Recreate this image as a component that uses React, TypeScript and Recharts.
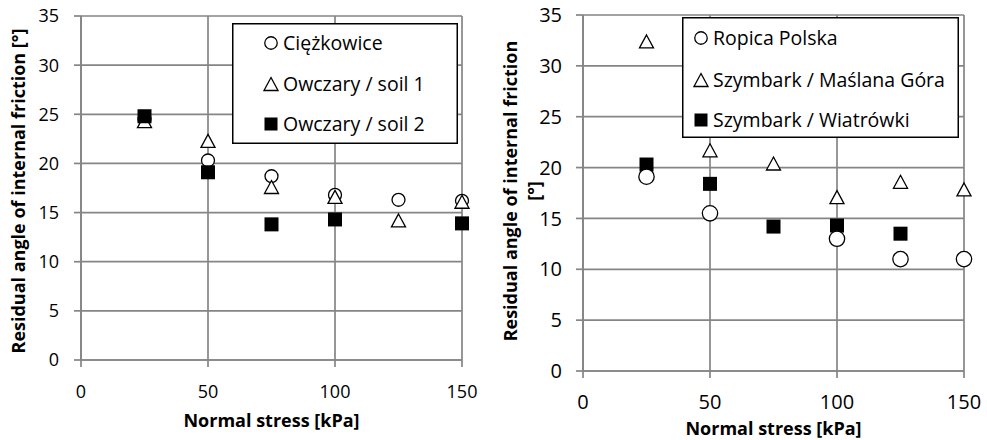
import React from 'react';
import { ScatterChart, Scatter, XAxis, YAxis, CartesianGrid, Legend, Label } from 'recharts';

// ---------- data ----------
const xTicks = [0, 50, 100, 150];
const yTicks = [0, 5, 10, 15, 20, 25, 30, 35];

// left panel
const leftNames = ['Ciężkowice', 'Owczary / soil 1', 'Owczary / soil 2'];
const ciezkowiceStress = [25, 50, 75, 100, 125, 150];
const ciezkowiceAngle = [24.5, 20.3, 18.7, 16.8, 16.3, 16.2];
const owczary1Stress = [25, 50, 75, 100, 125, 150];
const owczary1Angle = [24.3, 22.3, 17.6, 16.6, 14.2, 16.1];
const owczary2Stress = [25, 50, 75, 100, 150];
const owczary2Angle = [24.8, 19.1, 13.8, 14.3, 13.9];

// right panel
const rightNames = ['Ropica Polska', 'Szymbark / Maślana Góra', 'Szymbark / Wiatrówki'];
const ropicaStress = [25, 50, 100, 125, 150];
const ropicaAngle = [19.1, 15.5, 13.0, 11.0, 11.0];
const maslanaStress = [25, 50, 75, 100, 125, 150];
const maslanaAngle = [32.4, 21.7, 20.4, 17.1, 18.6, 17.85];
const wiatrowkiStress = [25, 50, 75, 100, 125];
const wiatrowkiAngle = [20.3, 18.4, 14.2, 14.3, 13.5];

const xTitle = 'Normal stress [kPa]';
const yTitleLeft = 'Residual angle of internal friction [°]';
const yTitleRight1 = 'Residual angle of internal friction';
const yTitleRight2 = '[°]';

// ---------- helpers ----------
const toPoints = (xs: number[], ys: number[]) => xs.map((x, i) => ({ x, y: ys[i] }));

const GRID = '#858585';
const FONT = '"Open Sans", sans-serif';

type Kind = 'circle' | 'triangle' | 'square';

function Marker({ kind, cx, cy, s }: { kind: Kind; cx: number; cy: number; s: number }) {
  if (kind === 'circle') {
    return <circle cx={cx} cy={cy} r={s * 0.48} fill="#fff" stroke="#000" strokeWidth={1.3} />;
  }
  if (kind === 'triangle') {
    const h = s * 0.5;
    return (
      <path
        d={`M${cx},${cy - h} L${cx + h * 1.08},${cy + h} L${cx - h * 1.08},${cy + h} Z`}
        fill="#fff"
        stroke="#000"
        strokeWidth={1.3}
        strokeLinejoin="miter"
      />
    );
  }
  return <rect x={cx - s / 2} y={cy - s / 2} width={s} height={s} fill="#000" />;
}

const shapeOf = (kind: Kind, s: number) => (props: any) =>
  <Marker kind={kind} cx={props.cx} cy={props.cy} s={s} />;

function makeLegend(names: string[], kinds: Kind[], w: number, h: number, mx: number, tx: number, rows: number[], fs: number) {
  return () => (
    <svg width={w} height={h} style={{ display: 'block' }}>
      <rect x={0.75} y={0.75} width={w - 1.5} height={h - 1.5} fill="#fff" stroke="#000" strokeWidth={1.5} />
      {names.map((n, i) => (
        <g key={n}>
          <Marker kind={kinds[i]} cx={mx} cy={rows[i]} s={13} />
          <text x={tx} y={rows[i]} dy="0.36em" fontFamily={FONT} fontSize={fs} fill="#000">
            {n}
          </text>
        </g>
      ))}
    </svg>
  );
}

const tickStyle = (fs: number) => ({ fontFamily: FONT, fontSize: fs, fill: '#000' });
const TITLE_FS = 18;

export default function App() {
  return (
    <div style={{ position: 'absolute', left: 0, top: 0, width: 987, height: 440, background: '#fff' }}>
      {/* LEFT */}
      <div style={{ position: 'absolute', left: 0, top: 0 }}>
        <ScatterChart width={490} height={440} margin={{ top: 16, right: 28, bottom: 0, left: 0 }}>
          <CartesianGrid stroke={GRID} strokeWidth={1.7} />
          <XAxis
            type="number"
            dataKey="x"
            domain={[0, 150]}
            ticks={xTicks}
            height={80}
            stroke={GRID}
            strokeWidth={1.7}
            tickSize={7}
            tickMargin={18}
            tick={tickStyle(18)}
            interval={0}
          >
            <Label
              content={(p: any) => {
                const vb = p.viewBox || { x: 81, y: 360, width: 381 };
                return (
                  <text x={vb.x + vb.width / 2} y={vb.y + 67} textAnchor="middle" fontFamily={FONT} fontWeight="bold" fontSize={TITLE_FS} fill="#000">
                    {xTitle}
                  </text>
                );
              }}
            />
          </XAxis>
          <YAxis
            type="number"
            dataKey="y"
            domain={[0, 35]}
            ticks={yTicks}
            width={81}
            stroke={GRID}
            strokeWidth={1.7}
            tickSize={7}
            tickMargin={15}
            tick={tickStyle(18)}
            interval={0}
          >
            <Label
              content={(p: any) => {
                const vb = p.viewBox || { x: 0, y: 16, height: 344 };
                const cx = 25;
                const cy = vb.y + vb.height / 2 + 3;
                return (
                  <text x={cx} y={cy} transform={`rotate(-90 ${cx} ${cy})`} textAnchor="middle" fontFamily={FONT} fontWeight="bold" fontSize={TITLE_FS} fill="#000">
                    {yTitleLeft}
                  </text>
                );
              }}
            />
          </YAxis>
          <Legend
            layout="vertical"
            align="center"
            verticalAlign="middle"
            wrapperStyle={{ position: 'absolute', left: 232, top: 23, width: 226, height: 121 }}
            content={makeLegend(leftNames, ['circle', 'triangle', 'square'], 226, 121, 39, 51, [20, 61, 101], 19.5)}
          />
          <Scatter name={leftNames[0]} data={toPoints(ciezkowiceStress, ciezkowiceAngle)} shape={shapeOf('circle', 13.5)} isAnimationActive={false} />
          <Scatter name={leftNames[1]} data={toPoints(owczary1Stress, owczary1Angle)} shape={shapeOf('triangle', 13)} isAnimationActive={false} />
          <Scatter name={leftNames[2]} data={toPoints(owczary2Stress, owczary2Angle)} shape={shapeOf('square', 14)} isAnimationActive={false} />
        </ScatterChart>
      </div>

      {/* RIGHT */}
      <div style={{ position: 'absolute', left: 490, top: 0 }}>
        <ScatterChart width={497} height={440} margin={{ top: 15, right: 23, bottom: 0, left: 0 }}>
          <CartesianGrid stroke={GRID} strokeWidth={1.7} />
          <XAxis
            type="number"
            dataKey="x"
            domain={[0, 150]}
            ticks={xTicks}
            height={69}
            stroke={GRID}
            strokeWidth={1.7}
            tickSize={7}
            tickMargin={17}
            tick={tickStyle(20)}
            interval={0}
          >
            <Label
              content={(p: any) => {
                const vb = p.viewBox || { x: 93, y: 371, width: 381 };
                return (
                  <text x={vb.x + vb.width / 2} y={vb.y + 64} textAnchor="middle" fontFamily={FONT} fontWeight="bold" fontSize={TITLE_FS} fill="#000">
                    {xTitle}
                  </text>
                );
              }}
            />
          </XAxis>
          <YAxis
            type="number"
            dataKey="y"
            domain={[0, 35]}
            ticks={yTicks}
            width={93}
            stroke={GRID}
            strokeWidth={1.7}
            tickSize={7}
            tickMargin={14}
            tick={tickStyle(20)}
            interval={0}
          >
            <Label
              content={(p: any) => {
                const vb = p.viewBox || { x: 0, y: 15, height: 356 };
                const cy = vb.y + vb.height / 2 - 2;
                const x1 = 27;
                const x2 = 51;
                return (
                  <g>
                    <text x={x1} y={cy} transform={`rotate(-90 ${x1} ${cy})`} textAnchor="middle" fontFamily={FONT} fontWeight="bold" fontSize={TITLE_FS} fill="#000">
                      {yTitleRight1}
                    </text>
                    <text x={x2} y={cy} transform={`rotate(-90 ${x2} ${cy})`} textAnchor="middle" fontFamily={FONT} fontWeight="bold" fontSize={TITLE_FS} fill="#000">
                      {yTitleRight2}
                    </text>
                  </g>
                );
              }}
            />
          </YAxis>
          <Legend
            layout="vertical"
            align="center"
            verticalAlign="middle"
            wrapperStyle={{ position: 'absolute', left: 192, top: 17, width: 277, height: 121 }}
            content={makeLegend(rightNames, ['circle', 'triangle', 'square'], 277, 121, 19, 31, [21, 63, 103], 19.5)}
          />
          <Scatter name={rightNames[2]} data={toPoints(wiatrowkiStress, wiatrowkiAngle)} shape={shapeOf('square', 14)} isAnimationActive={false} />
          <Scatter name={rightNames[1]} data={toPoints(maslanaStress, maslanaAngle)} shape={shapeOf('triangle', 13)} isAnimationActive={false} />
          <Scatter name={rightNames[0]} data={toPoints(ropicaStress, ropicaAngle)} shape={shapeOf('circle', 16)} isAnimationActive={false} />
        </ScatterChart>
      </div>
    </div>
  );
}
